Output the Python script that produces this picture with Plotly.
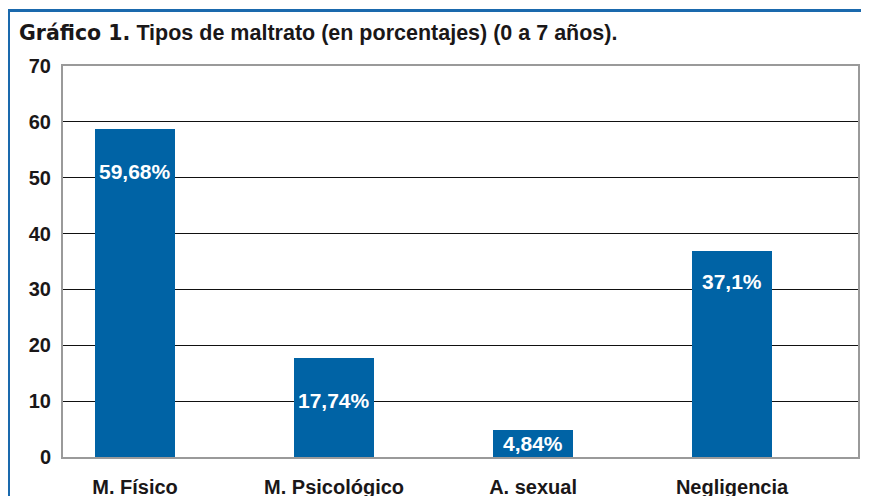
import plotly.graph_objects as go

categories = ["M. Físico", "M. Psicológico", "A. sexual", "Negligencia"]
bar_heights = [58.8, 17.7, 4.84, 36.8]
bar_labels = ["59,68%", "17,74%", "4,84%", "37,1%"]
label_y = [51.1, 10.2, 2.4, 31.4]
y_ticks = [0, 10, 20, 30, 40, 50, 60, 70]

BLUE = "#0063A5"
OFF = 8  # page body margin
W, H = 869 - OFF, 496 - OFF
L, T = 63 - OFF, 66 - OFF
R = W - (858 - OFF)
B = H - (457 - OFF)
pw, ph = W - L - R, H - T - B
FONT = "Liberation Sans, Arial, sans-serif"

def px(x):
    return (x - OFF - L) / pw

def py(y):
    return (H - B - (y - OFF)) / ph

fig = go.Figure()
fig.add_trace(go.Bar(
    x=categories, y=bar_heights, width=0.40,
    marker=dict(color=BLUE, line=dict(width=0)),
    hoverinfo="skip",
))

annotations = []
for c, t, ly in zip(categories, bar_labels, label_y):
    annotations.append(dict(
        x=c, y=ly, xref="x", yref="y", text=t, showarrow=False,
        font=dict(family=FONT, size=21, color="white", weight="bold"),
        xanchor="center", yanchor="middle",
    ))

annotations.append(dict(
    x=px(17), y=py(33), xref="paper", yref="paper", xanchor="left", yanchor="middle",
    showarrow=False,
    text=("<span style='font-family:DejaVu Sans;font-weight:bold;font-size:20.5px'>Gráfico 1.</span>"
          " <b>Tipos de maltrato (en porcentajes) (0 a 7 años).</b>"),
    font=dict(family=FONT, size=21.5, color="#1a1718", weight="bold"),
))

shapes = [dict(
    type="path", xref="paper", yref="paper",
    path=f"M {px(8.5)} {py(520)} L {px(8.5)} {py(10.5)} L {px(900)} {py(10.5)}",
    line=dict(color="#1a69ad", width=3),
)]

fig.update_layout(
    width=W, height=H,
    margin=dict(l=L, r=R, t=T, b=B, pad=0, autoexpand=False),
    paper_bgcolor="white", plot_bgcolor="white",
    showlegend=False,
    annotations=annotations,
    shapes=shapes,
    xaxis=dict(
        range=[-0.362, 3.633], showgrid=False, zeroline=False, automargin=False,
        showline=True, mirror=True, linecolor="#9a9a9a", linewidth=2,
        ticks="", ticklabelstandoff=11,
        tickfont=dict(family=FONT, size=20, color="#1a1718", weight="bold"),
        fixedrange=True,
    ),
    yaxis=dict(
        range=[0, 70], tickvals=y_ticks, showgrid=True, gridcolor="#111111", gridwidth=1,
        zeroline=False, showline=True, mirror=True, linecolor="#9a9a9a", linewidth=2,
        ticks="", ticklabelstandoff=6, automargin=False,
        tickfont=dict(family=FONT, size=20, color="#1a1718", weight="bold"),
        fixedrange=True,
    ),
    bargap=0,
)

fig.write_html("out.html")
